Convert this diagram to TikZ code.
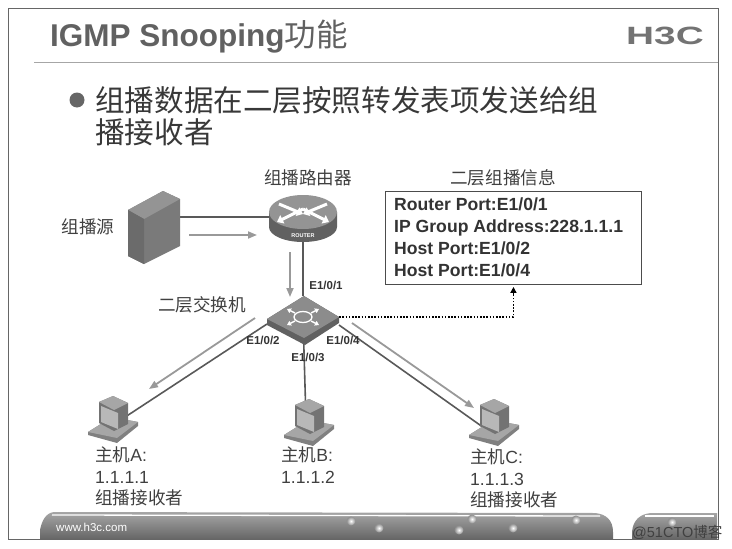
\documentclass[tikz,border=0pt]{standalone}
\usepackage{fontspec}
\setmainfont{Liberation Sans}
\newfontfamily\cjk{Noto Sans CJK SC}
\usetikzlibrary{arrows.meta,shapes.geometric}
\newcommand{\zh}[1]{{\cjk #1}}
\newcommand{\fsize}[1]{\fontsize{#1}{#1}\selectfont}
\tikzset{
  >={Triangle[length=9pt,width=7pt]},
  lab/.style={inner sep=0pt,text=black!75,font=\fsize{17.6}},
  hostlab/.style={lab,anchor=north west,align=left,font=\fontsize{17.6}{21.5}\selectfont},
  port/.style={inner sep=0pt,text=black!80,font=\bfseries\fsize{11.5}},
  wire/.style={draw=black!65,line width=1.6pt},
  flow/.style={->,draw=black!40,fill=black!40,line width=1.8pt},
  spot/.style={inner sep=0pt,minimum size=2pt},
  pics/hostpc/.style={code={
    \fill [black!50] (0,37) -- (24,22) -- (50,27) -- (50,31) -- (29,48) -- (0,40) -- cycle;
    \fill [black!35] (0,37) -- (24,22) -- (50,27) -- (29,43) -- cycle;
    \fill [black!55] (11,7) -- (25,1) -- (40,8) -- (40,29) -- (26,36) -- (11,28) -- cycle;
    \fill [black!35] (11,7) -- (25,1) -- (40,8) -- (26,15) -- cycle;
    \fill [black!28] (13,11) -- (30,18) -- (30,34) -- (13,27) -- cycle;
  }},
}
\begin{document}
\begin{tikzpicture}[x=1pt,y=-1pt]
  \useasboundingbox (0,0) rectangle (732,549);
  % page
  \draw [black!60,line width=0.9pt] (8,539) -- (8,8) -- (718,8) -- (718,539) -- cycle;
  \draw [black!35,line width=0.8pt] (34,62) -- (718,62);
  \shade [top color=black!35,bottom color=black!60] (40,539) -- (40,530) .. controls (42,520) and (46,513) .. (54,512) -- (595,513) .. controls (606,514) and (613,520) .. (613,532) -- (613,539) -- cycle;
  \shade [top color=black!35,bottom color=black!60] (632,539) -- (632,532) .. controls (633,520) and (640,514) .. (651,513) -- (717,513) -- (717,539) -- cycle;
  \draw [white,line width=1.3pt] (52,515) -- (600,516);
  \draw [white,line width=1.3pt] (645,516) -- (714,516);
  \foreach \x/\y in {351/521,379/528,459/530,472/519,513/528,576/520,672/522} {
    \shade [inner color=white,outer color=black!45] (\x,\y) circle (4.5);
  }
  \node (title) [anchor=west,inner sep=0pt,text=black!62,font=\bfseries\fsize{31.5}] at (50,37) {IGMP Snooping\zh{\mdseries 功能}};
  \node (logo) [inner sep=0pt,text=black!55,xscale=1.55,font=\bfseries\fsize{25}] at (665,36) {H3C};
  \fill [black!60] (77,100) circle (7.5);
  \node (head) [anchor=north west,inner sep=0pt,align=left,text=black!78,font=\cjk\fontsize{29.6}{32}\selectfont] at (95,86) {组播数据在二层按照转发表项发送给组\\播接收者};
  \node (foot) [inner sep=0pt,text=white,font=\fsize{11.5},anchor=west] at (56,527) {www.h3c.com};
  \node (mark) [inner sep=0pt,text=black!75,font=\fsize{14.5},anchor=west] at (632,532) {@51CTO\zh{博客}};
  % nodes of the network
  \node (srv) [spot] at (154,217) {};
  \node (rtr) [spot] at (303,217) {};
  \node (sw) [diamond,inner sep=0pt,minimum width=72pt,minimum height=42pt] at (303,317) {};
  \node (hosta) [spot] at (113,425) {};
  \node (hostb) [spot] at (306,420) {};
  \node (hostc) [spot] at (494,435) {};
  \node (info) [anchor=north west,draw=black!70,line width=0.9pt,minimum width=256pt,minimum height=93pt] at (385,191) {};
  \coordinate (swa) at (267,324);
  \coordinate (swc) at (339,325);
  \coordinate (f1) at (189,235);
  \coordinate (f2) at (257,235);
  \coordinate (f3) at (290,252);
  \coordinate (f4) at (290,297);
  \coordinate (f5) at (255,318);
  \coordinate (f6) at (149,389);
  \coordinate (f7) at (352,323);
  \coordinate (f8) at (474,408);
  % links
  \draw [wire] (srv) -- (rtr);
  \draw [wire] (rtr) -- (sw);
  \draw [wire] (swa) -- (hosta);
  \draw [wire] (sw) -- (hostb);
  \draw [wire] (swc) -- (hostc);
  \draw [->,black,line width=1.4pt,dash pattern=on 1.6pt off 1.6pt,>={Triangle[length=6pt,width=6pt]},shorten >=2pt] (sw.east) -| (info.south);
  \draw [flow] (f1) -- (f2);
  \draw [flow] (f3) -- (f4);
  \draw [flow] (f5) -- (f6);
  \draw [flow] (f7) -- (f8);
  % server
  \fill [black!52] (128,210) -- (163,191) -- (180,199) -- (180,246) -- (144,264) -- (128,256) -- cycle;
  \fill [black!42] (128,210) -- (163,191) -- (180,199) -- (144,219) -- cycle;
  \fill [black!58] (128,210) -- (144,219) -- (144,264) -- (128,256) -- cycle;
  % router
  \fill [black!62] (269,212) -- (269,227) arc [start angle=180,end angle=360,x radius=34,y radius=-15] -- (337,212) -- cycle;
  \fill [black!42] (303,212) ellipse [x radius=34,y radius=17];
  \foreach \a/\b in {279/204,327/204} {
    \draw [->,white,line width=3pt,>={Triangle[length=6pt,width=9pt]}] (\a,\b) -- (303,214);
  }
  \draw [->,white,line width=3pt,>={Triangle[length=6pt,width=9pt]}] (303,209) -- (277,222);
  \draw [->,white,line width=3pt,>={Triangle[length=6pt,width=9pt]}] (303,209) -- (329,222);
  \node (rtrlab) [inner sep=0pt,text=white,font=\bfseries\fsize{5.5}] at (303,236) {ROUTER};
  % switch
  \fill [black!62] (267,319) -- (304,296) -- (339,317) -- (339,323) -- (305,345) -- (267,325) -- cycle;
  \fill [black!45] (267,319) -- (304,296) -- (339,317) -- (304,338) -- cycle;
  \draw [white,line width=1.3pt] (303,317) ellipse [x radius=9,y radius=5.5];
  \foreach \a/\b in {287/309,319/309,287/325,319/325} {
    \draw [->,white,line width=1.5pt,>={Triangle[length=4pt,width=5pt]}] (303,317) ++(0.5*\a-151.5,0.5*\b-158.5) -- (\a,\b);
  }
  \pic at (88,395) {hostpc};
  \pic at (284,398) {hostpc};
  \pic at (469,398) {hostpc};
  % labels
  \node (srclab) [lab] at (88,227) {\zh{组播源}};
  \node (rtrname) [lab] at (308,178) {\zh{组播路由器}};
  \node (swname) [lab] at (202,305) {\zh{二层交换机}};
  \node (infoname) [lab] at (503,178) {\zh{二层组播信息}};
  \node (infotxt) [anchor=north west,inner sep=0pt,align=left,text=black!80,font=\bfseries\fontsize{17.6}{22}\selectfont] at (394,198) {Router Port:E1/0/1\\IP Group Address:228.1.1.1\\Host Port:E1/0/2\\Host Port:E1/0/4};
  \node (p1) [port] at (326,285) {E1/0/1};
  \node (p2) [port] at (263,340) {E1/0/2};
  \node (p3) [port] at (308,357) {E1/0/3};
  \node (p4) [port] at (343,340) {E1/0/4};
  \node (labela) [hostlab] at (95,447) {\zh{主机}A:\\1.1.1.1\\\zh{组播接收者}};
  \node (labelb) [hostlab] at (281,447) {\zh{主机}B:\\1.1.1.2};
  \node (labelc) [hostlab] at (470,449) {\zh{主机}C:\\1.1.1.3\\\zh{组播接收者}};
\end{tikzpicture}
\end{document}
